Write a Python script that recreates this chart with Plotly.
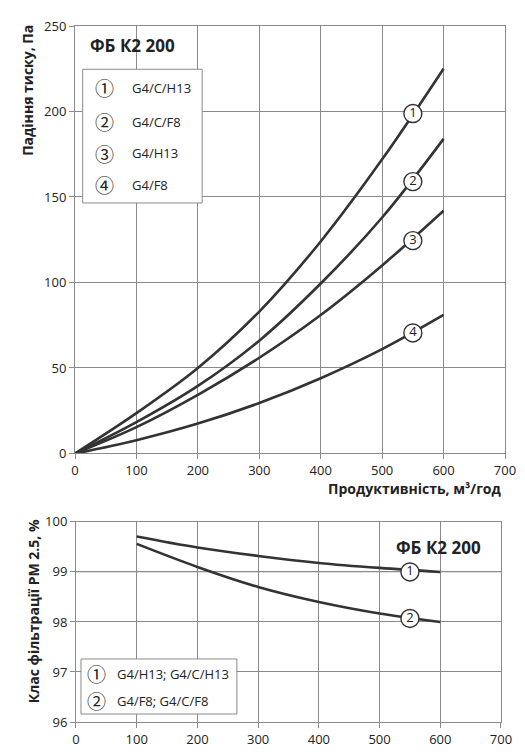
import plotly.graph_objects as go
from plotly.subplots import make_subplots

# pressure drop, Pa
flow = [0, 100, 200, 300, 400, 500, 600]
drop_1 = [0, 23.6, 50, 83, 124, 172, 225]
drop_2 = [0, 18.3, 39.5, 66, 99.4, 138, 184]
drop_3 = [0, 15.4, 34.3, 56, 81, 110, 142]
drop_4 = [0, 7.8, 17.5, 29.5, 44, 61, 81]
drop_names = ["G4/C/H13", "G4/C/F8", "G4/H13", "G4/F8"]
drop_marks = ["1", "2", "3", "4"]
drop_mark_x = [550, 550, 550, 550]
drop_mark_y = [198.8, 159, 124.5, 70.5]

# filtration class PM 2.5, %
eff_flow = [100, 200, 300, 400, 500, 600]
eff_1 = [99.71, 99.49, 99.32, 99.18, 99.08, 99.0]
eff_2 = [99.56, 99.10, 98.70, 98.40, 98.17, 98.0]
eff_names = ["G4/H13; G4/C/H13", "G4/F8; G4/C/F8"]
eff_marks = ["1", "2"]
eff_mark_x = [550, 550]
eff_mark_y = [99.0, 98.07]

circled = {"1": "①", "2": "②", "3": "③", "4": "④"}

LINE = "#333333"
GRID = "#8a8a8a"
FONT = "Open Sans"
CJK = "Noto Sans CJK SC"

fig = make_subplots(rows=2, cols=1)

for ys in [drop_1, drop_2, drop_3, drop_4]:
    fig.add_trace(go.Scatter(x=flow, y=ys, mode="lines", line_shape="spline",
                             line=dict(color=LINE, width=2.6), hoverinfo="skip"),
                  row=1, col=1)
fig.add_trace(go.Scatter(x=drop_mark_x, y=drop_mark_y, mode="markers+text",
                         text=drop_marks, textposition="middle center",
                         textfont=dict(family=FONT, size=13, color="#222"),
                         marker=dict(size=18, color="white",
                                     line=dict(color=LINE, width=1.4))),
              row=1, col=1)

for ys in [eff_1, eff_2]:
    fig.add_trace(go.Scatter(x=eff_flow, y=ys, mode="lines", line_shape="spline",
                             line=dict(color=LINE, width=2.6), hoverinfo="skip"),
                  row=2, col=1)
fig.add_trace(go.Scatter(x=eff_mark_x, y=eff_mark_y, mode="markers+text",
                         text=eff_marks, textposition="middle center",
                         textfont=dict(family=FONT, size=13, color="#222"),
                         marker=dict(size=18, color="white",
                                     line=dict(color=LINE, width=1.4))),
              row=2, col=1)

axis_style = dict(showgrid=True, gridcolor=GRID, gridwidth=1, zeroline=False,
                  showline=True, linecolor=GRID, mirror=True,
                  ticks="outside", ticklen=5, tickcolor=GRID,
                  tickfont=dict(family=FONT, size=13, color="#222"))

fig.update_xaxes(range=[0, 700], dtick=100, **axis_style)
fig.update_yaxes(**axis_style)
fig.update_yaxes(range=[0, 250], dtick=50, row=1, col=1)
fig.update_yaxes(range=[96, 100], dtick=1, row=2, col=1)
fig.update_layout(
    xaxis=dict(domain=[0, 1]),
    yaxis=dict(domain=[0.3858, 1]),
    xaxis2=dict(domain=[0.0023, 0.9907]),
    yaxis2=dict(domain=[0, 0.2875]),
)

# lighter gridline at 99 % in the lower chart
fig.add_shape(type="line", xref="x2 domain", yref="y2", x0=0, x1=1, y0=99, y1=99,
              line=dict(color="#c4c4c4", width=1.2), layer="below")

# legend boxes
fig.add_shape(type="rect", xref="x", yref="y", x0=12.5, x1=207, y0=146.5, y1=224.7,
              line=dict(color=GRID, width=1), fillcolor="white", layer="above")
fig.add_shape(type="rect", xref="x2", yref="y2", x0=8.2, x1=265, y0=96.16, y1=97.26,
              line=dict(color=GRID, width=1), fillcolor="white", layer="above")

ann = []
legend_y = [213.8, 194.0, 175.6, 157.3]
for mark, name, yy in zip(drop_marks, drop_names, legend_y):
    ann.append(dict(xref="x", yref="y", x=48, y=yy, text=circled[mark],
                    showarrow=False, font=dict(family=CJK, size=19, color="#222")))
    ann.append(dict(xref="x", yref="y", x=89, y=yy, text=name, xanchor="left",
                    showarrow=False, font=dict(family=FONT, size=13, color="#222")))
legend2_y = [96.96, 96.42]
for mark, name, yy in zip(eff_marks, eff_names, legend2_y):
    ann.append(dict(xref="x2", yref="y2", x=34, y=yy, text=circled[mark],
                    showarrow=False, font=dict(family=CJK, size=19, color="#222")))
    ann.append(dict(xref="x2", yref="y2", x=64, y=yy, text=name, xanchor="left",
                    showarrow=False, font=dict(family=FONT, size=13, color="#222")))

ann.append(dict(xref="x", yref="y", x=20.6, y=238.5, text="<b>ФБ К2 200</b>",
                xanchor="left", showarrow=False,
                font=dict(family=FONT, size=17, color="#222")))
ann.append(dict(xref="x2", yref="y2", x=671, y=99.49, text="<b>ФБ К2 200</b>",
                xanchor="right", showarrow=False,
                font=dict(family=FONT, size=17, color="#222")))

ann.append(dict(xref="paper", yref="paper", x=0.9946, y=0.3196,
                text="<b>Продуктивність, м³/год</b>", xanchor="right",
                showarrow=False, font=dict(family=FONT, size=14, color="#222")))
ann.append(dict(xref="paper", yref="paper", x=-0.109, y=1.004,
                text="<b>Падіння тиску, Па</b>", textangle=-90,
                xanchor="center", yanchor="top",
                showarrow=False, font=dict(family=FONT, size=14, color="#222")))
ann.append(dict(xref="paper", yref="paper", x=-0.098, y=0.159,
                text="<b>Клас фільтрації PM 2.5, %</b>", textangle=-90,
                xanchor="center", yanchor="middle",
                showarrow=False, font=dict(family=FONT, size=14, color="#222")))

# the page body adds an 8px offset, so the margins are shifted to compensate
fig.update_layout(
    width=525, height=756,
    margin=dict(l=67, r=28, t=9, b=42),
    paper_bgcolor="white", plot_bgcolor="white",
    showlegend=False,
    annotations=ann,
    font=dict(family=FONT, color="#222"),
)

fig.write_html("out.html")
